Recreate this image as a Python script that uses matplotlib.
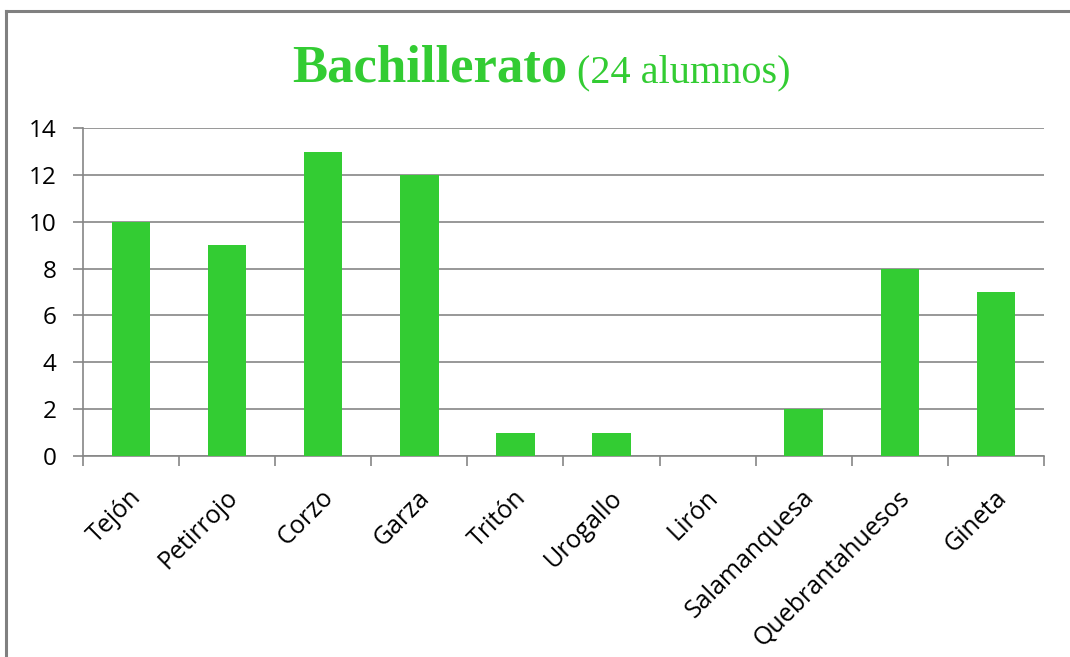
import matplotlib.pyplot as plt
from matplotlib.lines import Line2D
from matplotlib.transforms import ScaledTranslation

animales = ['Tejón', 'Petirrojo', 'Corzo', 'Garza', 'Tritón', 'Urogallo',
            'Lirón', 'Salamanquesa', 'Quebrantahuesos', 'Gineta']
alumnos = [10, 9, 13, 12, 1, 1, 0, 2, 8, 7]
yticks = [0, 2, 4, 6, 8, 10, 12, 14]

verde = '#33CC33'
gris = '#868686'

fig = plt.figure(figsize=(10.7, 6.57), dpi=100)
ax = fig.add_axes([0.0776, 0.306, 0.898, 0.499])

x = list(range(len(animales)))
ax.bar(x, alumnos, width=0.4, color=verde, zorder=3)

ax.set_xlim(-0.5, len(animales) - 0.5)
ax.set_ylim(0, 14)
ax.set_yticks(yticks)
ax.yaxis.grid(True, color=gris, linewidth=1.2, zorder=0)

# ticks between categories, labels at the centre
ax.set_xticks([i - 0.5 for i in range(len(animales) + 1)])
ax.set_xticklabels([])
ax.set_xticks(x, minor=True)
ax.set_xticklabels(animales, minor=True, rotation=45, ha='right',
                   rotation_mode='anchor', fontsize=18,
                   fontfamily='Open Sans')
ax.tick_params(axis='x', which='minor', length=0, pad=21)
ax.tick_params(axis='x', which='major', length=7, width=1.2, color=gris)
ax.tick_params(axis='y', length=7, width=1.2, color=gris, pad=12,
               labelsize=17.5)
for lbl in ax.get_yticklabels():
    lbl.set_fontfamily('Open Sans')
shift = ScaledTranslation(-2 / 100, 0, fig.dpi_scale_trans)
for lbl in ax.get_xticklabels(minor=True):
    lbl.set_transform(lbl.get_transform() + shift)

for side in ['top', 'right']:
    ax.spines[side].set_visible(False)
for side in ['left', 'bottom']:
    ax.spines[side].set_color(gris)
    ax.spines[side].set_linewidth(1.2)

# title in two parts
ty = 1 - 82 / 657
fig.text(567 / 1070, ty, 'Bachillerato', ha='right', va='baseline',
         fontsize=38, fontweight='bold', fontfamily='Liberation Serif',
         color=verde)
fig.text(577 / 1070, ty, '(24 alumnos)', ha='left', va='baseline',
         fontsize=29, fontfamily='Liberation Serif', color=verde)

# chart area frame
fig.add_artist(Line2D([6 / 1070, 1], [1 - 11 / 657, 1 - 11 / 657],
                      transform=fig.transFigure, color='#808080', lw=2.2))
fig.add_artist(Line2D([6 / 1070, 6 / 1070], [0, 1 - 11 / 657],
                      transform=fig.transFigure, color='#808080', lw=2.2))

fig.savefig('out.png', dpi=100)
